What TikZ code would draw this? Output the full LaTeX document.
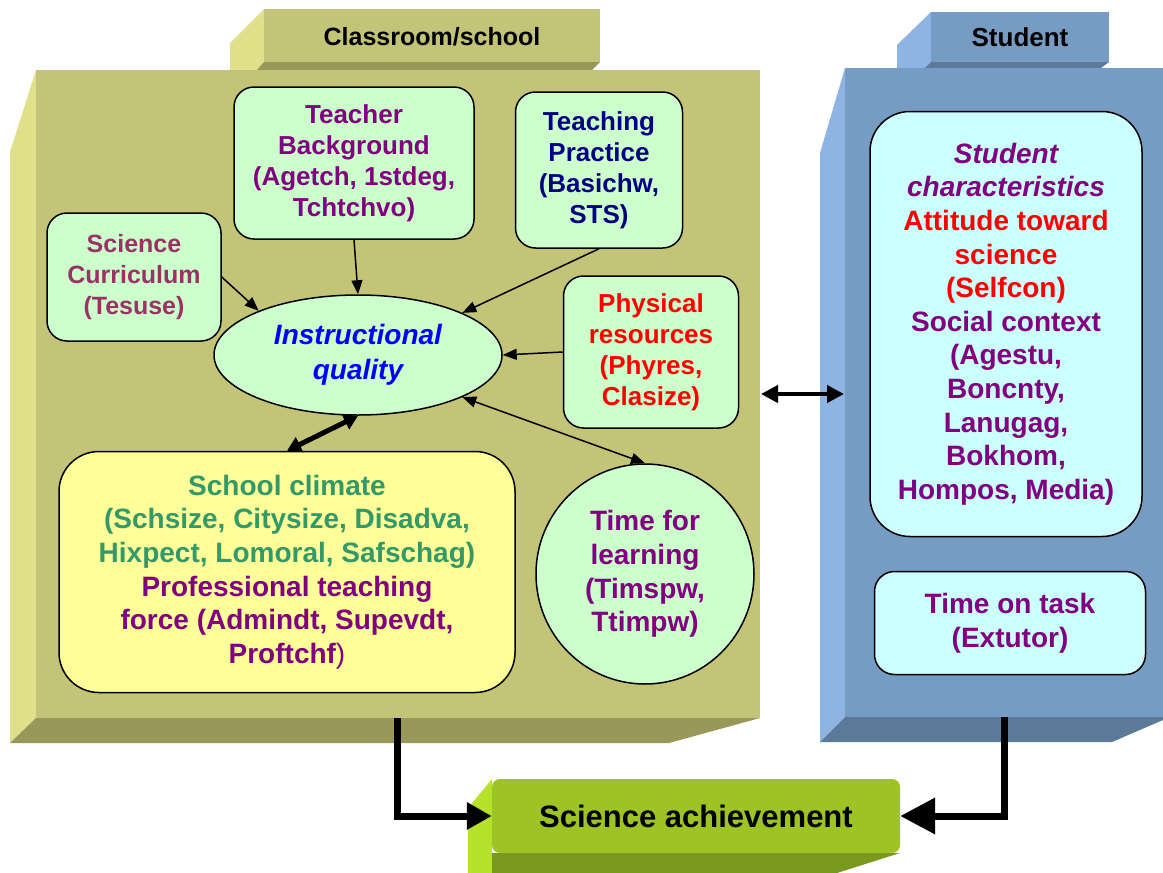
\documentclass[tikz,border=0pt]{standalone}
\usepackage{fontspec}
\setmainfont{Liberation Sans}
\usetikzlibrary{shapes.geometric, arrows.meta}

\definecolor{khaki}{RGB}{196,196,120}
\definecolor{khakilt}{RGB}{224,224,138}
\definecolor{khakidk}{RGB}{153,152,88}
\definecolor{steel}{RGB}{118,156,196}
\definecolor{steellt}{RGB}{141,180,226}
\definecolor{steeldk}{RGB}{91,122,154}
\definecolor{achv}{RGB}{157,196,36}
\definecolor{achvlt}{RGB}{182,226,44}
\definecolor{achvdk}{RGB}{120,152,30}
\definecolor{mint}{RGB}{204,255,204}
\definecolor{icecyan}{RGB}{204,255,255}
\definecolor{paleyel}{RGB}{255,255,153}
\definecolor{txpurple}{RGB}{128,0,128}
\definecolor{txnavy}{RGB}{0,0,128}
\definecolor{txmauve}{RGB}{153,51,102}
\definecolor{txgreen}{RGB}{51,153,102}

\begin{document}
\begin{tikzpicture}[x=1pt, y=-1pt,
    box/.style={draw, line width=1.5pt, rounded corners=20pt, align=center, inner sep=0pt},
    oval/.style={draw, line width=1.5pt, ellipse, align=center, inner sep=0pt},
    f26/.style={font=\bfseries\fontsize{26}{31}\selectfont},
    f28/.style={font=\bfseries\fontsize{28}{33.6}\selectfont},
    link/.style={-{Triangle[length=14pt,width=11pt]}, line width=1.5pt}]
    \useasboundingbox (0,0) rectangle (1163,873);

    % Classroom/school slab
    \fill[khakilt] (230,43) -- (264,9) -- (264,70) -- (230,70) -- cycle;
    \fill[khaki] (264,9) rectangle (600,62);
    \fill[khakidk] (264,62) -- (600,62) -- (592,70) -- (257,70) -- cycle;
    \fill[khakilt] (36,70) -- (36,718) -- (10,743) -- (10,152) -- cycle;
    \fill[khaki] (36,70) rectangle (760,718);
    \fill[khakidk] (36,718) -- (760,718) -- (669,743) -- (10,743) -- cycle;
    \node[font=\bfseries\fontsize{25}{30}\selectfont] (room) at (432,37) {Classroom/school};

    % Student slab
    \fill[steellt] (897,45) -- (931,12) -- (931,68) -- (897,68) -- cycle;
    \fill[steel] (931,12) rectangle (1109,62);
    \fill[steeldk] (931,62) -- (1109,62) -- (1101,68) -- (925,68) -- cycle;
    \fill[steellt] (845,68) -- (845,717) -- (820,742) -- (820,153) -- cycle;
    \fill[steel] (845,68) rectangle (1163,717);
    \fill[steeldk] (845,717) -- (1163,717) -- (1163,720) -- (1112,742) -- (820,742) -- cycle;
    \node[font=\bfseries\fontsize{26}{31}\selectfont] (stud) at (1020,37) {Student};

    % Science achievement block
    \fill[achvlt] (468,808) -- (492,779) -- (492,873) -- (468,873) -- cycle;
    \fill[achvdk] (492,853) -- (900,853) -- (837,873) -- (492,873) -- cycle;
    \node[fill=achv, rounded corners=8pt, minimum width=408, minimum height=74,
        font=\bfseries\fontsize{31}{36}\selectfont] (sci) at (696,816) {Science achievement};

    % Classroom factors
    \node[box, f26, fill=mint, text=txpurple, minimum width=240, minimum height=152]
        (tb) at (354,163) {Teacher\\Background\\(Agetch, 1stdeg,\\Tchtchvo)};
    \node[box, f26, fill=mint, text=txnavy, minimum width=167, minimum height=156]
        (tp) at (599,170) {Teaching\\Practice\\(Basichw,\\STS)};
    \node[box, f26, fill=mint, text=txmauve, minimum width=174, minimum height=128,
        font=\bfseries\fontsize{25}{31}\selectfont]
        (sc) at (134,277) {Science\\Curriculum\\(Tesuse)};
    \node[box, f26, fill=mint, text=red, minimum width=175, minimum height=152]
        (pr) at (651,352) {Physical\\resources\\(Phyres,\\Clasize)};
    \node[oval, fill=mint, text=blue, minimum width=288, minimum height=120,
        font=\bfseries\itshape\fontsize{28}{35}\selectfont]
        (iq) at (358,355) {Instructional\\quality};
    \node[box, f28, fill=paleyel, rounded corners=40pt, minimum width=456, minimum height=241]
        (clim) at (287,572) {\textcolor{txgreen}{School climate}\\
        \textcolor{txgreen}{(Schsize, Citysize, Disadva,}\\
        \textcolor{txgreen}{Hixpect, Lomoral, Safschag)}\\
        \textcolor{txpurple}{Professional teaching}\\
        \textcolor{txpurple}{force (Admindt, Supevdt,}\\
        \textcolor{txpurple}{Proftchf{\mdseries)}}};
    \node[oval, f28, fill=mint, text=txpurple, minimum width=218, minimum height=220]
        (tfl) at (645,574) {Time for\\learning\\(Timspw,\\Ttimpw)};

    % Student factors
    \node[box, f28, fill=icecyan, rounded corners=40pt, minimum width=272, minimum height=425]
        (sch) at (1006,324) {\textcolor{txpurple}{\itshape Student}\\
        \textcolor{txpurple}{\itshape characteristics}\\
        \textcolor{red}{Attitude toward}\\
        \textcolor{red}{science}\\
        \textcolor{red}{(Selfcon)}\\
        \textcolor{txpurple}{Social context}\\
        \textcolor{txpurple}{(Agestu,}\\
        \textcolor{txpurple}{Boncnty,}\\
        \textcolor{txpurple}{Lanugag,}\\
        \textcolor{txpurple}{Bokhom,}\\
        \textcolor{txpurple}{Hompos, Media)}};
    \node[box, f28, fill=icecyan, text=txpurple, minimum width=271, minimum height=103]
        (tot) at (1010,623) {Time on task\\(Extutor)};

    % Links into instructional quality
    \draw[link] (tb.south) -- (iq.north);
    \draw[link] (sc.east) -- (iq.156);
    \draw[link] (tp.south) -- (iq.22);
    \draw[link] (pr.west) -- (iq.east);
    \draw[{Triangle[length=14pt,width=11pt]}-{Triangle[length=14pt,width=11pt]}, line width=1.5pt]
        (iq.-22) -- (tfl.north);
    \draw[{Triangle[length=14pt,width=16pt]}-{Triangle[length=14pt,width=16pt]}, line width=5pt]
        (iq.south) -- (clim.north);

    % Classroom <-> student
    \coordinate (roomside) at (761,394);
    \coordinate (studside) at (844,394);
    \draw[{Triangle[length=17pt,width=17pt]}-{Triangle[length=17pt,width=17pt]}, line width=4pt]
        (roomside) -- (studside);

    % Feeds into achievement
    \coordinate (roomout) at (397,718);
    \coordinate (studout) at (1004,717);
    \draw[-{Triangle[length=25pt,width=26pt]}, line width=7pt] (roomout) |- (sci.west);
    \draw[-{Triangle[length=35pt,width=35pt]}, line width=7pt] (studout) |- (sci.east);
\end{tikzpicture}
\end{document}
